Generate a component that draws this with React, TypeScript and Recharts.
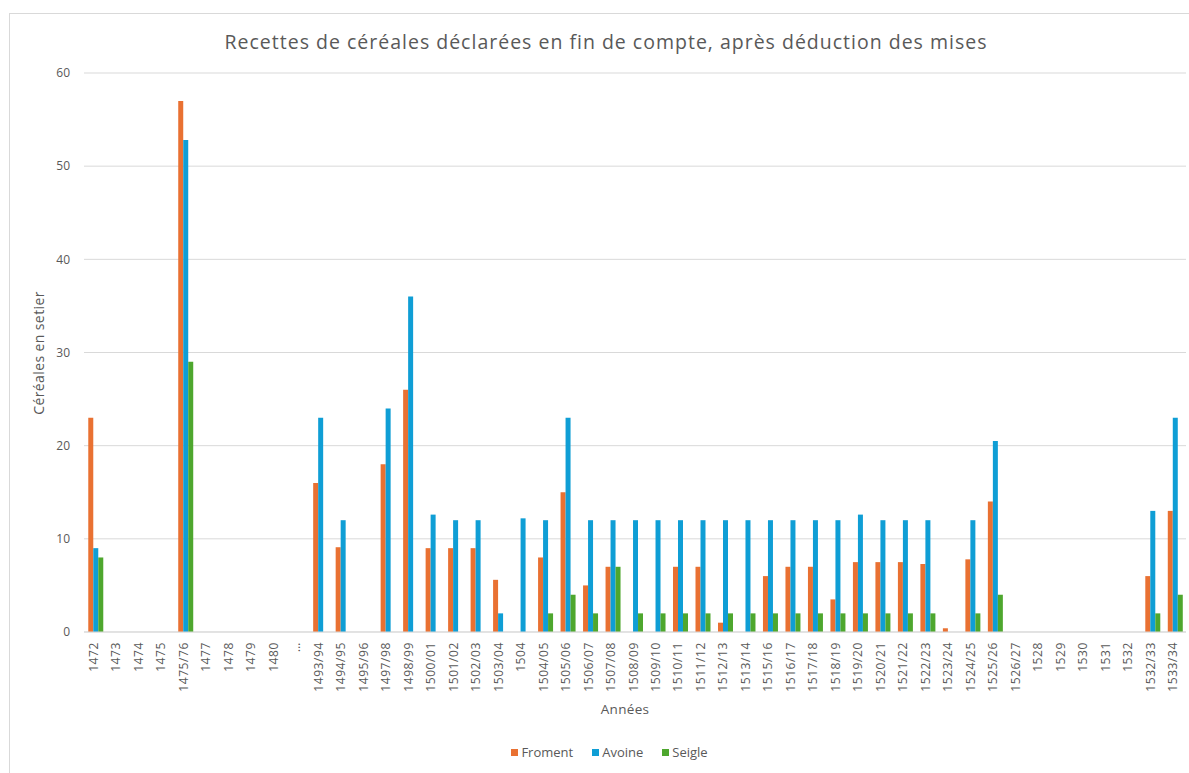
import React from 'react';
import { BarChart, Bar, XAxis, YAxis, CartesianGrid } from 'recharts';

const categories = ['1472','1473','1474','1475','1475/76','1477','1478','1479','1480','…','1493/94','1494/95','1495/96','1497/98','1498/99','1500/01','1501/02','1502/03','1503/04','1504','1504/05','1505/06','1506/07','1507/08','1508/09','1509/10','1510/11','1511/12','1512/13','1513/14','1515/16','1516/17','1517/18','1518/19','1519/20','1520/21','1521/22','1522/23','1523/24','1524/25','1525/26','1526/27','1528','1529','1530','1531','1532','1532/33','1533/34'];

const froment = [23,0,0,0,57,0,0,0,0,0,16,9.1,0,18,26,9,9,9,5.6,0,8,15,5,7,0,0,7,7,1,0,6,7,7,3.5,7.5,7.5,7.5,7.3,0.4,7.8,14,0,0,0,0,0,0,6,13];
const avoine = [9,0,0,0,52.8,0,0,0,0,0,23,12,0,24,36,12.6,12,12,2,12.2,12,23,12,12,12,12,12,12,12,12,12,12,12,12,12.6,12,12,12,0,12,20.5,0,0,0,0,0,0,13,23];
const seigle = [8,0,0,0,29,0,0,0,0,0,0,0,0,0,0,0,0,0,0,0,2,4,2,7,2,2,2,2,2,2,2,2,2,2,2,2,2,2,0,2,4,0,0,0,0,0,0,2,4];

const yTicks = [0, 10, 20, 30, 40, 50, 60];

const seriesNames = ['Froment', 'Avoine', 'Seigle'];
const seriesColors = ['#E97132', '#0F9ED5', '#4EA72E'];

const data = categories.map((c, i) => ({
  year: c,
  Froment: froment[i],
  Avoine: avoine[i],
  Seigle: seigle[i],
}));

const FONT = '"Open Sans", "Liberation Sans", Arial, sans-serif';
const TEXT = '#595959';

const XTick = (props: any) => {
  const { x, y, payload } = props;
  return (
    <text
      x={x - 2}
      y={y + 2}
      transform={`rotate(-90, ${x - 2}, ${y + 2})`}
      textAnchor="end"
      dominantBaseline="central"
      fontSize={12}
      letterSpacing={0.6}
      fill={TEXT}
      fontFamily={FONT}
    >
      {payload.value}
    </text>
  );
};

export default function App() {
  return (
    <div style={{ position: 'fixed', left: 0, top: 0, width: 1189, height: 773, overflow: 'hidden', background: '#fff', fontFamily: FONT }}>
      <div style={{ position: 'absolute', left: 9, top: 13, width: 1300, height: 900, border: '1px solid #d9d9d9', boxSizing: 'border-box' }} />
      <div style={{ position: 'absolute', left: 0, width: 1212, top: 28, textAlign: 'center', fontSize: 19.5, letterSpacing: 1, color: TEXT, whiteSpace: 'nowrap' }}>
        Recettes de céréales déclarées en fin de compte, après déduction des mises
      </div>
      <div style={{ position: 'absolute', left: 0, top: 0 }}>
        <BarChart
          width={1189}
          height={773}
          data={data}
          margin={{ top: 73, right: 3, bottom: 81, left: 0 }}
          barCategoryGap="19%"
          barGap={0}
        >
          <CartesianGrid vertical={false} stroke="#d9d9d9" strokeWidth={1} />
          <XAxis
            dataKey="year"
            interval={0}
            height={60}
            axisLine={{ stroke: '#d9d9d9' }}
            tickLine={false}
            tick={<XTick />}
          />
          <YAxis
            width={84}
            domain={[0, 60]}
            ticks={yTicks}
            axisLine={false}
            tickLine={false}
            tickMargin={8}
            tick={{ fontSize: 12, fill: TEXT, fontFamily: FONT }}
            label={{
              content: () => (
                <text
                  x={38}
                  y={353}
                  transform="rotate(-90, 38, 353)"
                  textAnchor="middle"
                  dominantBaseline="central"
                  fontSize={14}
                  letterSpacing={0.4}
                  fill={TEXT}
                  fontFamily={FONT}
                >
                  Céréales en setier
                </text>
              ),
            }}
          />
          {seriesNames.map((n, i) => (
            <Bar key={n} dataKey={n} fill={seriesColors[i]} isAnimationActive={false} />
          ))}
        </BarChart>
      </div>
      <div style={{ position: 'absolute', left: 0, width: 1250, top: 700, textAlign: 'center', fontSize: 13.5, letterSpacing: 0.3, color: TEXT }}>
        Années
      </div>
      <div style={{ position: 'absolute', left: 0, width: 1219, top: 743, display: 'flex', justifyContent: 'center', fontSize: 13, color: TEXT, gap: 19 }}>
        {seriesNames.map((n, i) => (
          <div key={n} style={{ display: 'flex', alignItems: 'center' }}>
            <span style={{ display: 'inline-block', width: 7, height: 7, background: seriesColors[i], marginRight: 3 }} />
            <span>{n}</span>
          </div>
        ))}
      </div>
    </div>
  );
}
